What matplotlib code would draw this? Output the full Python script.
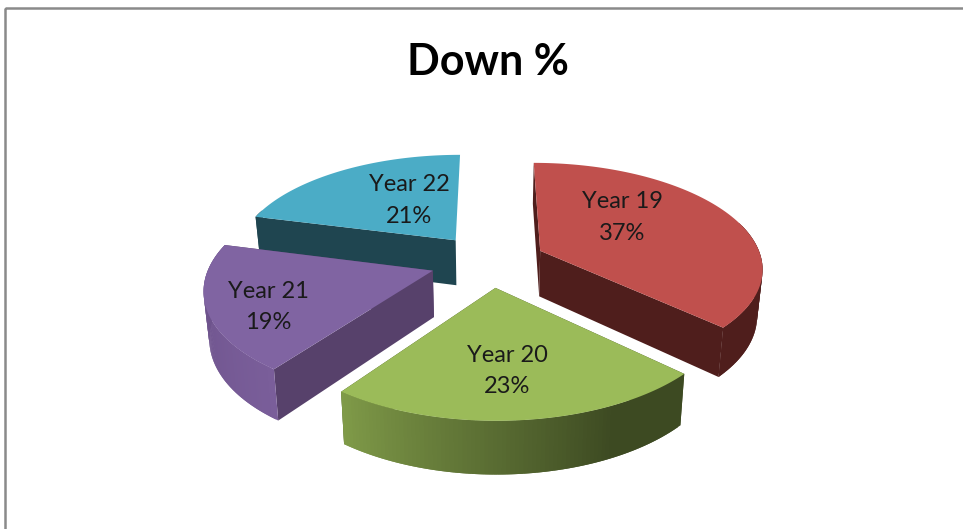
import numpy as np
import matplotlib
matplotlib.use('Agg')
import matplotlib.pyplot as plt
from matplotlib.patches import Rectangle
from matplotlib.colors import to_rgb

years = ['Year 19', 'Year 20', 'Year 21', 'Year 22']
down_pct = [37, 23, 19, 21]

top_colors = ['#C0504D', '#9BBB59', '#8064A2', '#4BACC6']
side_colors = ['#4F1E1C', '#3F4A22', '#57416B', '#1F4550']
rim_start = ['#4F1E1C', '#3D4A22', '#7A5E9A', '#1F4550']
rim_end = ['#4F1E1C', '#7F9A48', '#694F87', '#1F4550']
rim_flat_until = [0, 0.25, 0, 0]

explode = [0.25, 0.25, 0.27, 0.26]
# pixel nudges from the default label spot on each slice
label_nudge = [(-23, -12), (-2, 16), (-43, 16), (20, 0)]

# view of the pie, fitted on the picture
x0, y0 = 490, 261
rx, ry = 222, 104
persp = 0.15
depth = 46
lean = 0.02


def project(u, v, z=0.0):
    s = 1 / (1 + persp * v)
    x = x0 + rx * u * s
    x = x - (x - x0) * lean * z
    y = y0 - ry * v * s + depth * s ** 0.75 * z
    return x, y


def blend(c1, c2, t):
    c1, c2 = np.array(to_rgb(c1)), np.array(to_rgb(c2))
    return tuple(c1 + (c2 - c1) * t)


fig = plt.figure(figsize=(9.63, 5.29), dpi=100)
ax = fig.add_axes([0, 0, 1, 1])
ax.set_xlim(0, 963)
ax.set_ylim(529, 0)
ax.axis('off')

ax.add_patch(Rectangle((5, 8), 1000, 600, fill=False, ec='#8A8A8A', lw=1.8))

ax.text(488, 75, 'Down %', family='Lato', weight='bold', fontsize=31,
        ha='center', va='baseline', color='black')

edges = np.cumsum([0] + down_pct) / sum(down_pct) * 2 * np.pi
mids = (edges[:-1] + edges[1:]) / 2

# back slices first
for i in np.argsort(-np.cos(mids)):
    a1, a2 = edges[i], edges[i + 1]
    ox, oy = explode[i] * np.sin(mids[i]), explode[i] * np.cos(mids[i])
    ang = np.linspace(a1, a2, 90)
    u = ox + np.sin(ang)
    v = oy + np.cos(ang)

    # flat side walls, the one closing the circle does not show
    for a in (a1, a2):
        if a > 2 * np.pi - 1e-6:
            continue
        ua, va = ox + np.sin(a), oy + np.cos(a)
        p1 = project(ox, oy)
        p2 = project(ua, va)
        p3 = project(ua, va, 1)
        p4 = project(ox, oy, 1)
        xs, ys = zip(p1, p2, p3, p4)
        ax.fill(xs, ys, color=side_colors[i], lw=0)

    # round outer wall, shaded along the arc
    # each strip runs under the next one so no seams show
    for j in range(len(ang) - 1):
        if np.cos(ang[j]) > 0.3:  # faces away from the viewer
            continue
        t = j / (len(ang) - 2)
        t = max(0, (t - rim_flat_until[i]) / (1 - rim_flat_until[i]))
        col = blend(rim_start[i], rim_end[i], t)
        k = min(j + 2, len(ang) - 1)
        p1 = project(u[j], v[j])
        p2 = project(u[k], v[k])
        p3 = project(u[k], v[k], 1)
        p4 = project(u[j], v[j], 1)
        xs, ys = zip(p1, p2, p3, p4)
        ax.fill(xs, ys, color=col, lw=0)

    # top face
    tx, ty = project(np.r_[ox, u], np.r_[oy, v])
    ax.fill(tx, ty, color=top_colors[i], lw=0)

for i in range(len(years)):
    ox, oy = explode[i] * np.sin(mids[i]), explode[i] * np.cos(mids[i])
    lx, ly = project(ox + 0.55 * np.sin(mids[i]), oy + 0.55 * np.cos(mids[i]))
    ax.text(lx + label_nudge[i][0], ly + label_nudge[i][1],
            '%s\n%d%%' % (years[i], down_pct[i]),
            family='Lato', fontsize=17, color='#1A1A1A',
            ha='center', va='center', linespacing=1.62)

fig.savefig('out.png', dpi=100, facecolor='white')
